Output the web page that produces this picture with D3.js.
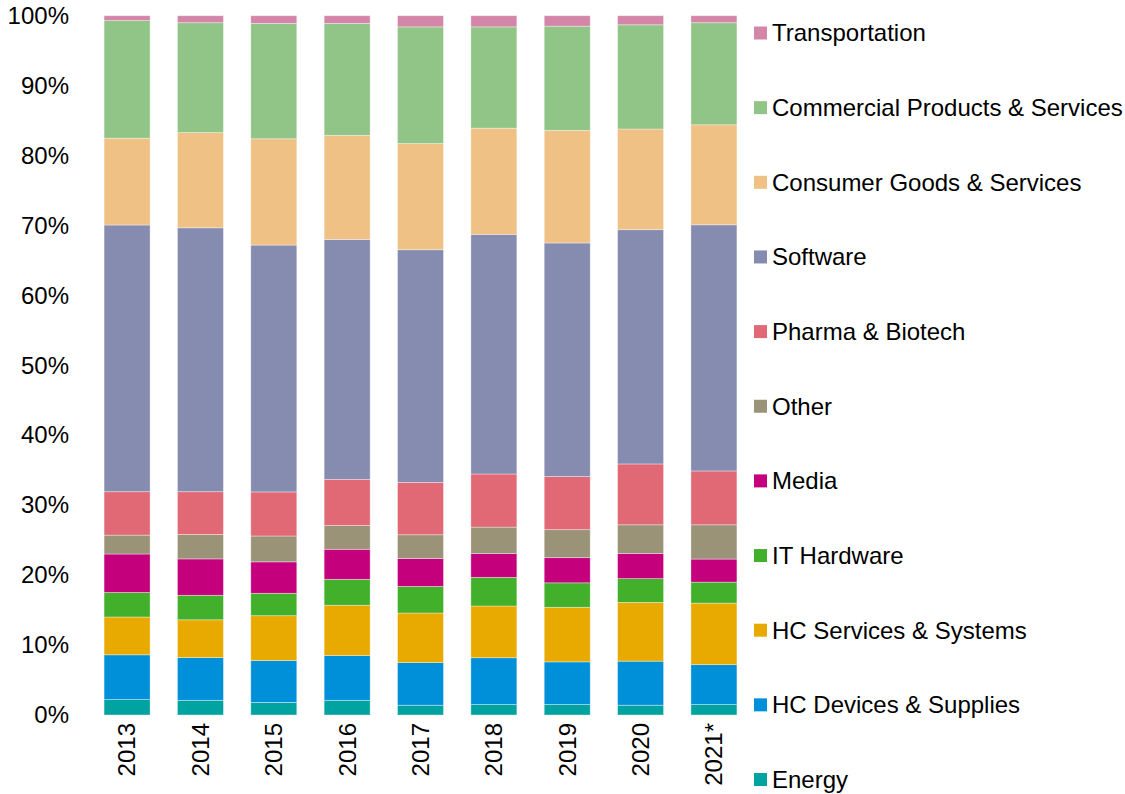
<!DOCTYPE html>
<html>
<head>
<meta charset="utf-8">
<script src="https://cdn.jsdelivr.net/npm/d3@7"></script>
<style>
  body { margin: 0; background: #fff; }
  svg text { font-family: "Liberation Sans", Arial, sans-serif; fill: #000; }
</style>
</head>
<body>
<script>

// Years on the x axis
const years = ["2013", "2014", "2015", "2016", "2017", "2018", "2019", "2020", "2021*"];

// Share of deals per sector (%), bottom to top
const energy         = [2.2, 2.1, 1.8, 2.1, 1.4, 1.5, 1.5, 1.4, 1.5];
const hcDevices      = [6.4, 6.1, 6.0, 6.4, 6.1, 6.7, 6.1, 6.3, 5.7];
const hcServices     = [5.4, 5.4, 6.4, 7.2, 7.1, 7.4, 7.8, 8.4, 8.8];
const itHardware     = [3.5, 3.5, 3.2, 3.7, 3.8, 4.1, 3.5, 3.4, 3.0];
const media          = [5.5, 5.2, 4.5, 4.3, 4.0, 3.4, 3.6, 3.6, 3.3];
const other          = [2.7, 3.5, 3.7, 3.4, 3.4, 3.8, 4.0, 4.1, 4.9];
const pharma         = [6.2, 6.1, 6.3, 6.6, 7.5, 7.6, 7.6, 8.7, 7.7];
const software       = [38.1, 37.7, 35.3, 34.3, 33.3, 34.3, 33.4, 33.5, 35.2];
const consumer       = [12.4, 13.6, 15.2, 14.9, 15.2, 15.2, 16.1, 14.4, 14.3];
const commercial     = [16.8, 15.7, 16.5, 16.0, 16.7, 14.5, 14.9, 14.9, 14.6];
const transportation = [0.7, 1.0, 1.1, 1.1, 1.6, 1.6, 1.5, 1.3, 1.0];

// Series names (stack order, bottom first) and colours
const seriesNames = ["Energy", "HC Devices & Supplies", "HC Services & Systems", "IT Hardware", "Media",
    "Other", "Pharma & Biotech", "Software", "Consumer Goods & Services",
    "Commercial Products & Services", "Transportation"];
const seriesValues = [energy, hcDevices, hcServices, itHardware, media, other, pharma,
    software, consumer, commercial, transportation];
const seriesColors = ["#00a3a0", "#0090d9", "#e9aa00", "#42b02a", "#c5007d", "#9b9377",
    "#e16976", "#868bb0", "#efc184", "#90c587", "#d486a8"];

// y tick labels
const yTicks = [0, 0.1, 0.2, 0.3, 0.4, 0.5, 0.6, 0.7, 0.8, 0.9, 1];

const width = 1125;
const height = 794;

const svg = d3.create("svg")
    .attr("width", width)
    .attr("height", height)
    .attr("viewBox", [0, 0, width, height]);

// Build the table d3.stack wants
const table = years.map((yr, i) => {
    const row = { year: yr };
    seriesNames.forEach((s, j) => { row[s] = seriesValues[j][i]; });
    return row;
});

const stacked = d3.stack()
    .keys(seriesNames)
    .offset(d3.stackOffsetExpand)(table);

const x = d3.scaleBand()
    .domain(years)
    .range([90.4, 750.6])
    .paddingInner(0.373)
    .paddingOuter(0.1865);

const y = d3.scaleLinear()
    .domain([0, 1])
    .range([715, 15.7]);

const color = d3.scaleOrdinal(seriesNames, seriesColors);

// Bars
svg.append("g")
  .selectAll("g")
  .data(stacked)
  .join("g")
    .attr("fill", d => color(d.key))
  .selectAll("rect")
  .data(d => d)
  .join("rect")
    .attr("x", d => x(d.data.year))
    .attr("y", d => y(d[1]))
    .attr("height", d => y(d[0]) - y(d[1]))
    .attr("width", x.bandwidth())
    .attr("stroke", "#fff")
    .attr("stroke-opacity", 0.45)
    .attr("stroke-width", 0.8);

// y axis, labels only
svg.append("g")
    .attr("transform", "translate(79,0)")
    .call(d3.axisLeft(y).tickValues(yTicks).tickFormat(d3.format(".0%")).tickSize(0).tickPadding(10))
    .call(g => g.select(".domain").remove())
    .call(g => g.selectAll("text").attr("font-size", 24).attr("fill", "#000")
        .attr("font-family", "Liberation Sans, Arial, sans-serif"));

// x axis, rotated labels
svg.append("g")
    .selectAll("text")
    .data(years)
    .join("text")
    .attr("transform", d => `translate(${x(d) + x.bandwidth() / 2},723) rotate(-90)`)
    .attr("text-anchor", "end")
    .attr("dy", "0.35em")
    .attr("font-size", 24)
    .text(d => d);

// Legend, top entry is the top of the stack
const legendItems = seriesNames.slice().reverse();
const legendY = d3.scalePoint()
    .domain(legendItems)
    .range([33, 779.5]);

const legend = svg.append("g")
  .selectAll("g")
  .data(legendItems)
  .join("g")
    .attr("transform", d => `translate(754,${legendY(d)})`);

legend.append("rect")
    .attr("x", 0)
    .attr("y", -6.5)
    .attr("width", 13)
    .attr("height", 13)
    .attr("fill", d => color(d));

legend.append("text")
    .attr("x", 18)
    .attr("dy", "0.35em")
    .attr("font-size", 24)
    .text(d => d);

document.body.appendChild(svg.node());
</script>
</body>
</html>
